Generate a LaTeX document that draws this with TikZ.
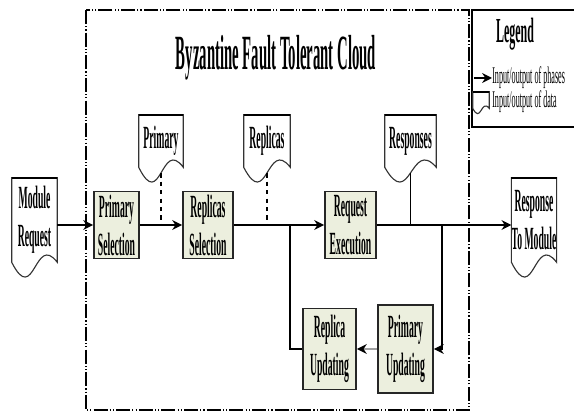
\documentclass[tikz,border=0pt]{standalone}
\usepackage{fontspec}
\setmainfont{Liberation Serif}[FakeStretch=0.3]
\newfontfamily\legendfont{Liberation Serif}[FakeStretch=0.34]
\newfontfamily\legendboldfont{Liberation Serif Bold}[FakeStretch=0.34]
\usetikzlibrary{arrows.meta, positioning, calc}
\definecolor{phasefill}{RGB}{236, 239, 222}
\definecolor{updgray}{RGB}{160, 160, 160}
\tikzset{
  phase/.style={rectangle, draw=black!85, line width=1.3pt, fill=phasefill, inner sep=0pt,
              align=center, font=\bfseries\fontsize{23}{27}\selectfont},
  datadoc/.style={rectangle, inner sep=0pt, align=center, font=\bfseries\fontsize{23}{27}\selectfont},
  docline/.style={line width=0.8pt, draw=black!80},
  flow/.style={-{Stealth[length=7pt, width=7pt]}, line width=1.4pt},
  grayflow/.style={-{Stealth[length=7pt, width=7pt, color=black]}, line width=1.4pt, draw=updgray},
  link/.style={line width=0.8pt},
  cloudframe/.style={line width=1pt, dash pattern=on 10pt off 1.5pt on 0.8pt off 1.5pt on 0.8pt off 1.5pt},
  legitem/.style={inner sep=0pt, font=\legendfont\fontsize{17}{19}\selectfont},
}
% outline of a data document: straight top and sides, wavy bottom
\newcommand{\docoutline}[3]{%
  \draw[docline] (#1.south west) -- (#1.north west) -- (#1.north east) -- (#1.south east)
    .. controls ($(#1.south west)!0.5!(#1.south east)+(0,#2)$)
       and ($(#1.south west)!0.5!(#1.south east)+(0,#3)$) .. (#1.south west);
  \draw[line width=1.4pt] (#1.north west) -- (#1.north east);}

\begin{document}
\begin{tikzpicture}[x=0.025cm, y=-0.025cm]
    \useasboundingbox (0,0) rectangle (574,413);

    % cloud and legend frames
    \draw[cloudframe] (86,10) rectangle (469,410);
    \draw[line width=1.5pt] (472,10) rectangle (590,127);
    \node[anchor=base, inner sep=0pt, font=\bfseries\fontsize{35}{40}\selectfont] (cloudtitle)
        at (276,70) {Byzantine Fault Tolerant Cloud};
    \node[anchor=base, inner sep=0pt, font=\legendboldfont\fontsize{25}{29}\selectfont] (legtitle)
        at (515,43) {Legend};

    % phases
    \node[phase, minimum width=1.125cm, minimum height=1.675cm] (psel) at (116.5,225) {Primary\\ Selection};
    \node[phase, minimum width=1.25cm, minimum height=1.675cm] (rsel) at (208,225) {Replicas\\ Selection};
    \node[phase, minimum width=1.275cm, minimum height=1.675cm] (rexec) at (350.5,225) {Request\\ Execution};
    \node[phase, minimum width=1.375cm, minimum height=2.2cm] (pupd) at (405.5,349) {Primary\\ Updating};
    \node[phase, minimum width=1.325cm, minimum height=2.025cm] (rupd) at (329.5,349) {Replica\\ Updating};

    % data
    \node[datadoc, minimum width=1.125cm, minimum height=2.1cm] (modreq) at (34.5,220) {Module\\ Request};
    \node[datadoc, minimum width=1.05cm, minimum height=2.1cm] (tomod) at (534,220) {Response\\ To Module};
    \node[datadoc, minimum width=1.1cm, minimum height=1.3cm] (dprim) at (161,141) {Primary};
    \node[datadoc, minimum width=1.15cm, minimum height=1.3cm] (drep) at (267,141) {Replicas};
    \node[datadoc, minimum width=1.275cm, minimum height=1.3cm] (dresp) at (410.5,141) {Responses};
    \node[datadoc, minimum width=0.4cm, minimum height=0.4cm] (legdoc) at (481,100) {};
    \docoutline{modreq}{-30}{45}
    \docoutline{tomod}{-30}{45}
    \docoutline{dprim}{-30}{45}
    \docoutline{drep}{-30}{45}
    \docoutline{dresp}{-30}{45}
    \docoutline{legdoc}{-10}{16}

    % legend entries
    \coordinate (legtail) at (474,78);
    \node[legitem, anchor=west] (legphase) at (492,78) {Input/output of phases};
    \node[legitem, anchor=west] (legdata) at (492,102) {Input/output of data};
    \draw[flow] (legtail) -- (legphase.west);

    % main flow
    \draw[flow] (modreq.east |- psel) -- (psel);
    \draw[flow] (psel) -- (rsel);
    \draw[flow] (rsel) -- (rexec);
    \draw[flow] (rexec) -- (tomod.west |- rexec);

    % data inputs
    \draw[link, dashed, shorten <=1.5mm] (dprim.south) -- (dprim.south |- psel);
    \draw[link, dashed, shorten <=1.5mm] (drep.south) -- (drep.south |- rsel);
    \draw[link, shorten <=1.5mm] (dresp.south) -- (dresp.south |- rexec);

    % updating loop
    \coordinate (splitR) at (442,225);
    \coordinate (splitL) at (290,225);
    \draw[link, -{Stealth[length=7pt, width=7pt]}] (splitR) |- (pupd.east);
    \draw[grayflow] (pupd) -- (rupd);
    \draw[link] (rupd.west) -| (splitL);
\end{tikzpicture}
\end{document}
